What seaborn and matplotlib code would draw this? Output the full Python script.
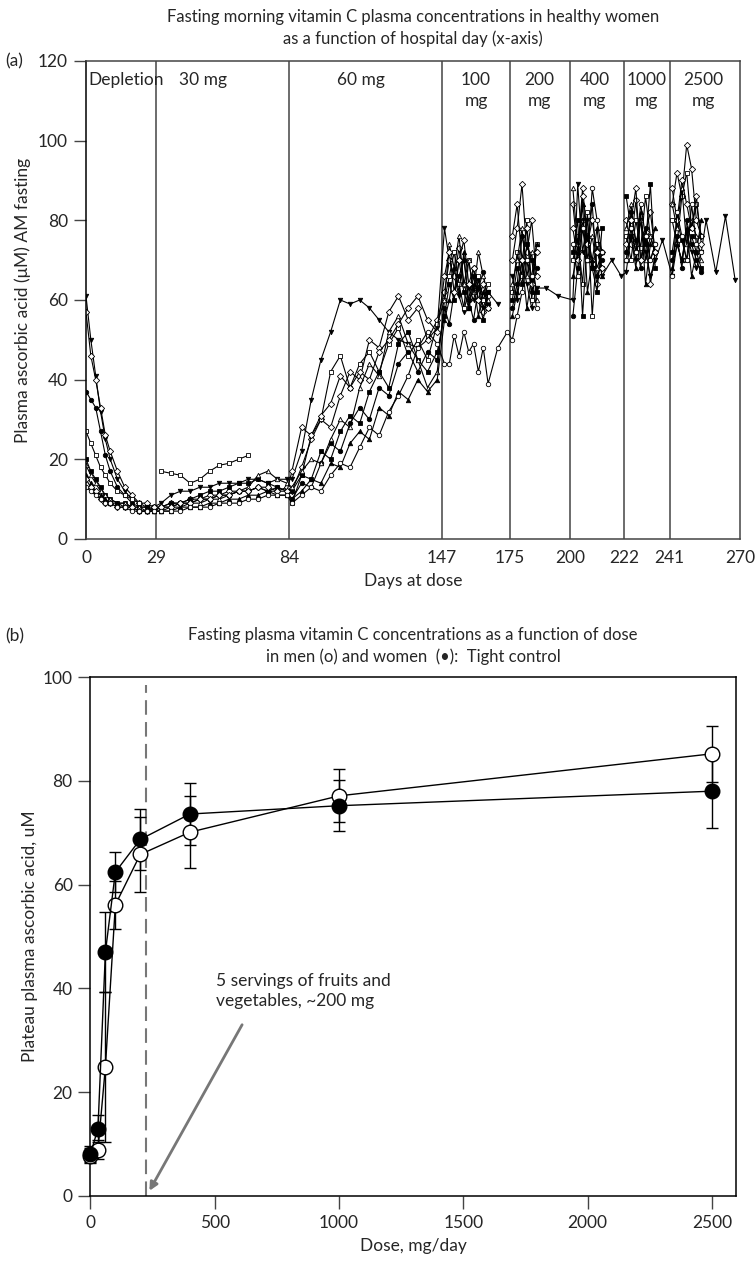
import numpy as np
import pandas as pd
import matplotlib
matplotlib.use("Agg")
import matplotlib.pyplot as plt
import seaborn as sns

sns.set_theme(style="ticks")
plt.rcParams['font.family'] = ['Lato', 'DejaVu Sans']

# ---- panel (a): individual subjects, fasting AM plasma vitamin C by hospital day ----
days = [0, 2, 4, 6, 8, 10, 13, 16, 19, 22, 25, 28,
        31, 35, 39, 43, 47, 51, 55, 59, 63, 67, 71, 75, 79, 83,
        85, 89, 93, 97, 101, 105, 109, 113, 117, 121, 125, 129, 133, 137, 141, 145,
        148, 150, 152, 154, 156, 158, 160, 162, 164, 166, 170, 174,
        176, 178, 180, 182, 184, 186, 190, 195,
        201, 203, 205, 207, 209, 211, 213, 217, 221,
        223, 225, 227, 229, 231, 233, 235, 238,
        242, 244, 246, 248, 250, 252, 254, 256, 260, 264, 268]
N = None

s1 = [61, 50, 41, 32, 25, 20, 15, 12, 10, 9, 8, 8,
      9, 11, 12, 12, 13, 13, 14, 14, 14, 15, 15, 14, 15, 15,
      15, 22, 35, 45, 52, 60, 59, 60, 58, 55, 52, 50, 49, 48, 50, 53,
      78, 70, 66, 61, 57, 63, 60, 65, 58, 62, 59, N,
      66, 60, 70, 64, 58, 63, 63, 61,
      60, 89, 72, 80, 68, 74, 66, 70, 66,
      67, 76, 70, 80, 72, 66, 70, 75,
      66, 74, 70, 77, 72, 68, 72, 80, 67, 81, 65]
s2 = [57, 46, 40, 33, 26, 22, 17, 13, 11, 9, 9, 8,
      8, 9, 9, 10, 10, 11, 11, 12, 12, 12, 13, 12, 12, 13,
      12, 18, 25, 30, 28, 36, 42, 40, 50, 48, 57, 61, 55, 58, 50, 55,
      62, 70, 66, 73, 64, 60, 68, 63, 57, 61, N, N,
      70, 78, 89, 72, 80, 66, N, N,
      84, 72, 88, 76, 70, 64, 72, N, N,
      80, 74, 85, 70, 77, 82, 72, N,
      84, 92, 86, 99, 93, 80, 76, N, N, N, N]
s3 = [37, 35, 33, 27, 21, 17, 13, 11, 9, 8, 8, 7,
      8, 8, 9, 9, 10, 10, 11, 11, 12, 12, 13, 12, 13, 12,
      10, 14, 13, 19, 24, 22, 29, 33, 30, 38, 36, 44, 47, 42, 47, 45,
      58, 54, 62, 66, 70, 60, 55, 63, 67, 59, N, N,
      58, 64, 76, 70, 62, 68, N, N,
      56, 68, 80, 74, 84, 66, 70, N, N,
      72, 82, 75, 68, 78, 70, 74, N,
      70, 76, 68, 80, 74, 70, 67, N, N, N, N]
s4 = [27, 24, 21, 18, 16, 14, 12, 11, 10, 9, N, N,
      17, 16.5, 16, 14, 15, 17, 18.5, 19, 20, 21, N, N, N, N,
      9, 16, 26, 30, 42, 46, 38, 44, 47, 42, 49, 53, 46, 50, 45, 54,
      60, 66, 72, 64, 58, 70, 62, 66, 60, 64, N, N,
      62, 72, 66, 80, 60, 74, N, N,
      70, 76, 64, 82, 56, 74, 68, N, N,
      76, 70, 80, 73, 86, 76, 72, N,
      80, 74, 86, 92, 78, 84, 76, N, N, N, N]
s5 = [20, 17, 15, 13, 11, 10, 9, 9, 8, 8, 8, 7,
      8, 9, 9, 10, 11, 12, 12, 13, 14, 14, 15, 14, 13, 12,
      12, 16, 15, 22, 20, 27, 31, 29, 37, 42, 38, 49, 52, 45, 42, 47,
      56, 64, 60, 70, 62, 58, 66, 60, 55, 62, N, N,
      60, 68, 64, 74, 70, 62, N, N,
      72, 80, 56, 76, 68, 62, 78, N, N,
      86, 78, 72, 80, 74, 89, 68, N,
      72, 80, 75, 70, 76, 72, 68, N, N, N, N]
s6 = [18.5, 16, 14, 12, 11, 10, 9, 9, 8, 8, 7, 7,
      7, 8, 8, 9, 9, 10, 10, 11, 12, 13, 16, 17, 15, 14,
      13, 17, 20, 19, 25, 30, 28, 38, 44, 41, 52, 56, 49, 45, 38, 42,
      60, 74, 68, 76, 64, 70, 62, 72, 66, 60, N, N,
      64, 70, 78, 66, 72, 60, N, N,
      88, 74, 80, 70, 76, 68, 72, N, N,
      78, 84, 74, 80, 70, 76, 72, N,
      84, 78, 88, 74, 80, 76, 70, N, N, N, N]
s7 = [16, 14, 12, 11, 10, 9, 9, 8, 8, 7, 7, 7,
      7, 7, 8, 8, 8, 9, 9, 10, 10, 11, 11, 12, 11, 11,
      10, 12, 15, 14, 19, 18, 24, 27, 25, 33, 31, 37, 35, 40, 37, 40,
      55, 60, 68, 62, 72, 58, 64, 56, 62, 58, N, N,
      56, 62, 70, 58, 66, 74, N, N,
      66, 72, 84, 62, 70, 78, 66, N, N,
      70, 76, 68, 82, 64, 74, 78, N,
      68, 74, 70, 78, 66, 72, 80, N, N, N, N]
s8 = [15, 13, 12, 10, 9, 9, 8, 8, 8, 7, 7, 8,
      8, 8, 9, 9, 10, 10, 11, 11, 12, 12, 13, 13, 12, 12,
      17, 28, 26, 31, 34, 41, 38, 42, 40, 47, 50, 54, 58, 61, 55, 52,
      66, 72, 62, 70, 75, 64, 68, 60, 64, 58, N, N,
      76, 84, 70, 78, 64, 72, N, N,
      78, 70, 86, 74, 80, 72, 68, N, N,
      74, 80, 88, 70, 76, 64, 72, N,
      88, 80, 90, 84, 78, 86, 74, N, N, N, N]
s9 = [13, 12, 11, 10, 9, 9, 8, 8, 7, 7, 7, 7,
      7, 7, 7, 8, 8, 8, 9, 9, 9, 10, 10, 11, 11, 11,
      9, 11, 13, 12, 16, 19, 18, 23, 28, 26, 32, 36, 41, 48, 52, 49,
      44, 44, 51, 46, 52, 47, 49, 42, 48, 39, 48, 52,
      50, 56, 62, 70, 66, 58, N, N,
      74, 66, 78, 70, 88, 80, 72, N, N,
      70, 78, 72, 84, 76, 70, 74, N,
      66, 82, 76, 70, 84, 74, 72, N, N, N, N]

subjects = [s1, s2, s3, s4, s5, s6, s7, s8, s9]
subject_markers = ["v", "D", "o", "s", "s", "^", "^", "D", "o"]
subject_filled = [True, False, True, False, True, False, True, False, False]

phase_days = [29, 84, 147, 175, 200, 222, 241]
phase_labels = ["Depletion", "30 mg", "60 mg", "100\nmg", "200\nmg", "400\nmg", "1000\nmg", "2500\nmg"]
label_days = [1, 48.5, 113.5, 161, 187, 210, 231.5, 255]

# ---- panel (b): plateau concentrations vs dose ----
dose = [0, 30, 60, 100, 200, 400, 1000, 2500]
women = [8.1, 13.0, 47.0, 62.4, 68.7, 73.6, 75.2, 78.0]
women_sd = [1.5, 2.6, 7.7, 3.8, 5.9, 5.9, 4.9, 7.0]
men = [7.8, 8.9, 24.9, 56.1, 65.8, 70.1, 77.1, 85.2]
men_sd = [1.5, 1.8, 14.5, 4.6, 7.3, 6.9, 5.1, 5.4]

FS = 12.5

fig = plt.figure(figsize=(7.55, 12.63), dpi=100)
ax_a = fig.add_axes([86 / 755, 1 - 539 / 1263, (740 - 86) / 755, (539 - 61) / 1263])
ax_b = fig.add_axes([90 / 755, 1 - 1196 / 1263, (736 - 90) / 755, (1196 - 677) / 1263])

for vals, mk, filled in zip(subjects, subject_markers, subject_filled):
    df = pd.DataFrame({"day": days, "value": pd.array(vals, dtype="Float64").astype(float)})
    df["segment"] = df["value"].isna().cumsum()
    df = df.dropna()
    sns.lineplot(data=df, x="day", y="value", units="segment", estimator=None,
                 color="black", lw=0.8, marker=mk, markersize=3.2,
                 markerfacecolor="black" if filled else "white",
                 markeredgecolor="black", markeredgewidth=0.6, ax=ax_a, legend=False)

for d in phase_days:
    ax_a.axvline(d, color="#444444", lw=1.1, zorder=1)
for lab, d in zip(phase_labels, label_days):
    ha = "left" if lab == "Depletion" else "center"
    y = 115.3 if "\n" not in lab else 112.6
    ax_a.text(d, y, lab, ha=ha, va="center", fontsize=FS, linespacing=1.35)

ax_a.set_xlim(0, 270)
ax_a.set_ylim(0, 120)
ax_a.set_xticks([0] + phase_days + [270])
ax_a.set_yticks([0, 20, 40, 60, 80, 100, 120])
ax_a.tick_params(axis="x", length=0, pad=8, labelsize=FS)
ax_a.tick_params(axis="y", length=9, width=1, pad=4, labelsize=FS, color="#444444")
ax_a.set_xlabel("Days at dose", fontsize=FS, labelpad=5)
ax_a.set_ylabel("Plasma ascorbic acid (μM) AM fasting", fontsize=FS, labelpad=5)
for sp in ax_a.spines.values():
    sp.set_color("#444444")
    sp.set_linewidth(1.1)
ax_a.spines["left"].set_color("black")
fig.text(413 / 755, 1 - 28 / 1263,
         "Fasting morning vitamin C plasma concentrations in healthy women\nas a function of hospital day (x-axis)",
         ha="center", va="center", fontsize=12, linespacing=1.45)
fig.text(5 / 755, 1 - 61 / 1263, "(a)", ha="left", va="center", fontsize=FS)

# panel b
df_b = pd.DataFrame({"dose": dose, "women": women, "men": men})
ax_b.errorbar(dose, men, yerr=men_sd, fmt="none", ecolor="black", elinewidth=1, capsize=4, capthick=1, zorder=2, clip_on=False)
ax_b.errorbar(dose, women, yerr=women_sd, fmt="none", ecolor="black", elinewidth=1, capsize=4, capthick=1, zorder=2, clip_on=False)
sns.lineplot(data=df_b, x="dose", y="men", color="black", lw=1, marker="o", markersize=10.5,
             markerfacecolor="white", markeredgecolor="black", markeredgewidth=1, ax=ax_b, zorder=3, clip_on=False)
sns.lineplot(data=df_b, x="dose", y="women", color="black", lw=1, marker="o", markersize=10.5,
             markerfacecolor="black", markeredgecolor="black", markeredgewidth=1, ax=ax_b, zorder=4, clip_on=False)
ax_b.plot([222, 222], [0, 98.5], color="#777777", lw=1.5, dashes=(7, 3.5), zorder=1)
ax_b.annotate("", xy=(237, 1), xytext=(610, 33),
              arrowprops=dict(arrowstyle="-|>", color="#777777", lw=2, mutation_scale=12, shrinkA=0, shrinkB=0))
ax_b.text(505, 39.5, "5 servings of fruits and\nvegetables, ~200 mg", ha="left", va="center",
          fontsize=FS, linespacing=1.35)

ax_b.set_xlim(-2, 2597)
ax_b.set_ylim(0, 100)
ax_b.set_xticks([0, 500, 1000, 1500, 2000, 2500])
ax_b.set_yticks([0, 20, 40, 60, 80, 100])
ax_b.tick_params(axis="both", length=9, width=1, labelsize=FS, color="#444444")
ax_b.tick_params(axis="x", pad=5)
ax_b.set_xlabel("Dose, mg/day", fontsize=FS, labelpad=5)
ax_b.set_ylabel("Plateau plasma ascorbic acid, uM", fontsize=FS, labelpad=3)
for sp in ax_b.spines.values():
    sp.set_color("black")
    sp.set_linewidth(1.1)
fig.text(413 / 755, 1 - 646 / 1263,
         "Fasting plasma vitamin C concentrations as a function of dose\nin men (o) and women  (\u2022):  Tight control",
         ha="center", va="center", fontsize=12, linespacing=1.45)
fig.text(5 / 755, 1 - 636 / 1263, "(b)", ha="left", va="center", fontsize=FS)

fig.savefig("out.png", dpi=100)
